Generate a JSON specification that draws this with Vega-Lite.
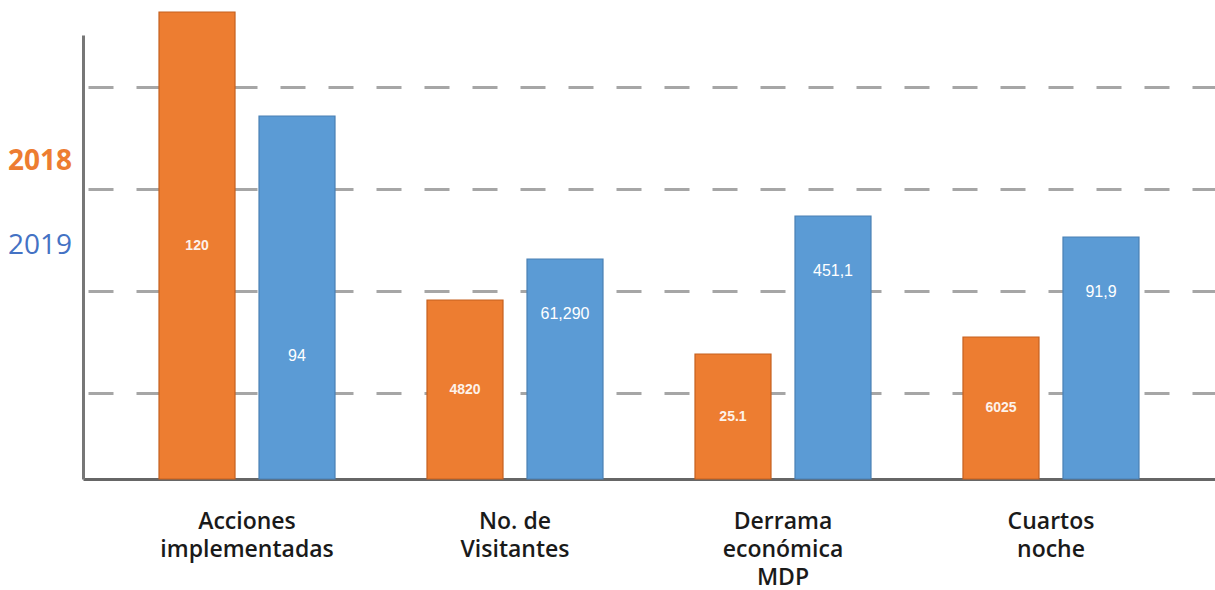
{
  "$schema": "https://vega.github.io/schema/vega-lite/v6.json",
  "width": 1132,
  "height": 444,
  "autosize": {"type": "none"},
  "padding": {"left": 83, "top": 35, "right": 0, "bottom": 111},
  "background": "white",
  "config": {"view": {"stroke": null}},
  "data": {
    "values": [
      {"cat": "Acciones implementadas", "year": "2018", "h": 467, "label": "120"},
      {"cat": "Acciones implementadas", "year": "2019", "h": 363, "label": "94"},
      {"cat": "No. de Visitantes", "year": "2018", "h": 179, "label": "4820"},
      {"cat": "No. de Visitantes", "year": "2019", "h": 220, "label": "61,290"},
      {"cat": "Derrama económica MDP", "year": "2018", "h": 125, "label": "25.1"},
      {"cat": "Derrama económica MDP", "year": "2019", "h": 263, "label": "451,1"},
      {"cat": "Cuartos noche", "year": "2018", "h": 142, "label": "6025"},
      {"cat": "Cuartos noche", "year": "2019", "h": 242, "label": "91,9"}
    ]
  },
  "encoding": {
    "x": {
      "field": "cat",
      "type": "nominal",
      "sort": null,
      "scale": {"paddingInner": 0, "paddingOuter": 0.112},
      "axis": {
        "title": null,
        "labelAngle": 0,
        "ticks": false,
        "domainColor": "#666666",
        "domainWidth": 3,
        "labelFont": "Open Sans",
        "labelFontWeight": 600,
        "labelFontSize": 23,
        "labelColor": "#1a1a1a",
        "labelLineHeight": 28,
        "labelPadding": 31,
        "labelBaseline": "top",
        "labelExpr": "datum.label === 'No. de Visitantes' ? ['No. de', 'Visitantes'] : split(datum.label, ' ')"
      }
    },
    "xOffset": {
      "field": "year",
      "type": "nominal",
      "scale": {"paddingInner": 0.24, "paddingOuter": 0.46}
    }
  },
  "layer": [
    {
      "mark": {"type": "bar", "strokeWidth": 1.2},
      "encoding": {
        "y": {
          "field": "h",
          "type": "quantitative",
          "scale": {"domain": [0, 444], "nice": false, "zero": true},
          "axis": {
            "title": null,
            "labels": false,
            "ticks": false,
            "values": [86, 188, 290, 392],
            "domainColor": "#777777",
            "domainWidth": 3,
            "grid": true,
            "gridColor": "#a6a6a6",
            "gridWidth": 3,
            "gridDash": [25, 23],
            "gridDashOffset": -5
          }
        },
        "color": {
          "field": "year",
          "type": "nominal",
          "scale": {"domain": ["2018", "2019"], "range": ["#ED7D31", "#5B9BD5"]},
          "legend": {
            "title": null,
            "orient": "none",
            "legendX": -103,
            "legendY": 113,
            "symbolSize": 0,
            "symbolStrokeWidth": 0,
            "symbolOpacity": 0,
            "labelOffset": 0,
            "labelFont": "Open Sans",
            "labelFontSize": 28,
            "rowPadding": 56,
            "labelLimit": 200,
            "encode": {
              "labels": {
                "update": {
                  "fill": {"signal": "datum.value === '2018' ? '#ED7D31' : '#4472C4'"},
                  "fontWeight": {"signal": "datum.value === '2018' ? 'bold' : 'normal'"}
                }
              }
            }
          }
        },
        "stroke": {
          "field": "year",
          "type": "nominal",
          "scale": {"domain": ["2018", "2019"], "range": ["#C5601F", "#4A80B4"]},
          "legend": null
        }
      }
    },
    {
      "transform": [
        {"filter": "datum.year === '2018'"},
        {"calculate": "datum.h / 2", "as": "pos"}
      ],
      "mark": {
        "type": "text",
        "color": "#fdf2ea",
        "font": "Liberation Sans",
        "fontWeight": "bold",
        "fontSize": 14,
        "baseline": "middle",
        "align": "center"
      },
      "encoding": {
        "y": {"field": "pos", "type": "quantitative"},
        "text": {"field": "label"}
      }
    },
    {
      "transform": [
        {"filter": "datum.year === '2019'"},
        {"calculate": "datum.h > 300 ? datum.h * 0.34 : datum.h - 55", "as": "pos"}
      ],
      "mark": {
        "type": "text",
        "color": "white",
        "font": "Liberation Sans",
        "fontSize": 16,
        "baseline": "middle",
        "align": "center"
      },
      "encoding": {
        "y": {"field": "pos", "type": "quantitative"},
        "text": {"field": "label"}
      }
    }
  ]
}
